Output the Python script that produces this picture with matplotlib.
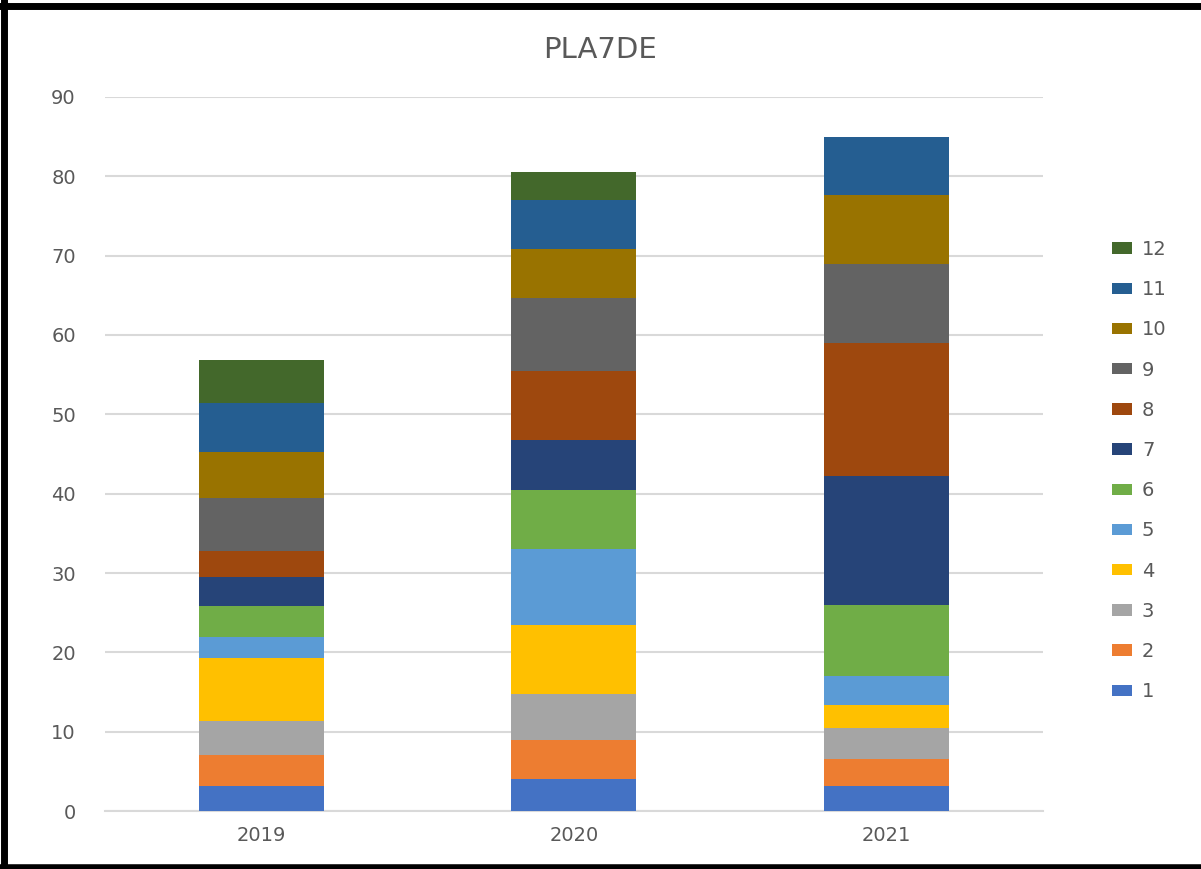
import numpy as np
import matplotlib.pyplot as plt
from matplotlib.lines import Line2D

years = ["2019", "2020", "2021"]
series = [str(i) for i in range(1, 13)]
values = {
    "1": [3.2, 4.1, 3.1],
    "2": [3.9, 4.8, 3.4],
    "3": [4.2, 5.8, 4.0],
    "4": [8.0, 8.8, 2.9],
    "5": [2.6, 9.5, 3.6],
    "6": [4.0, 7.5, 9.0],
    "7": [3.6, 6.3, 16.2],
    "8": [3.3, 8.6, 16.8],
    "9": [6.7, 9.3, 10.0],
    "10": [5.8, 6.1, 8.6],
    "11": [6.1, 6.2, 7.4],
    "12": [5.5, 3.5, 0.0],
}
colors = ["#4472C4", "#ED7D31", "#A5A5A5", "#FFC000", "#5B9BD5", "#70AD47",
          "#264478", "#9E480E", "#636363", "#997300", "#255E91", "#43682B"]

fig = plt.figure(figsize=(12.01, 8.69), dpi=100)
ax = fig.add_axes([0.0874, 0.0667, 0.781, 0.8217])

x = np.arange(len(years))
bottom = np.zeros(len(years))
handles = []
for s, c in zip(series, colors):
    v = np.array(values[s])
    h = ax.bar(x, v, 0.4, bottom=bottom, color=c, label=s, zorder=3)
    handles.append(h)
    bottom += v

ax.set_xlim(-0.5, 2.5)
ax.set_ylim(0, 90)
ax.set_yticks(range(0, 91, 10))
ax.set_xticks(x)
ax.set_xticklabels(years)
ax.yaxis.grid(True, color="#d9d9d9", linewidth=1.5, zorder=0)
for sp in ["top", "right", "left"]:
    ax.spines[sp].set_visible(False)
ax.spines["bottom"].set_color("#d9d9d9")
ax.spines["bottom"].set_linewidth(1.5)
ax.tick_params(axis="both", length=0, labelsize=14, colors="#595959")
ax.tick_params(axis="y", pad=21)
ax.tick_params(axis="x", pad=11)

fig.text(0.5, 0.943, "PLA7DE", ha="center", va="center", fontsize=21, color="#595959")

fig.legend(handles[::-1], series[::-1], loc="upper left",
           bbox_to_anchor=(0.918, 0.735), frameon=False, fontsize=14,
           borderpad=0, handlelength=1.03, handleheight=0.52, labelspacing=1.09,
           handletextpad=0.5, labelcolor="#595959")

# black frame on top, left and bottom edges
tr = fig.transFigure
fig.lines.append(Line2D([0, 1], [0.993, 0.993], transform=tr, color="black", linewidth=5))
fig.lines.append(Line2D([0.0035, 0.0035], [0, 1], transform=tr, color="black", linewidth=5))
fig.lines.append(Line2D([0, 1], [0.002, 0.002], transform=tr, color="black", linewidth=4))

fig.savefig("out.png", dpi=100)
